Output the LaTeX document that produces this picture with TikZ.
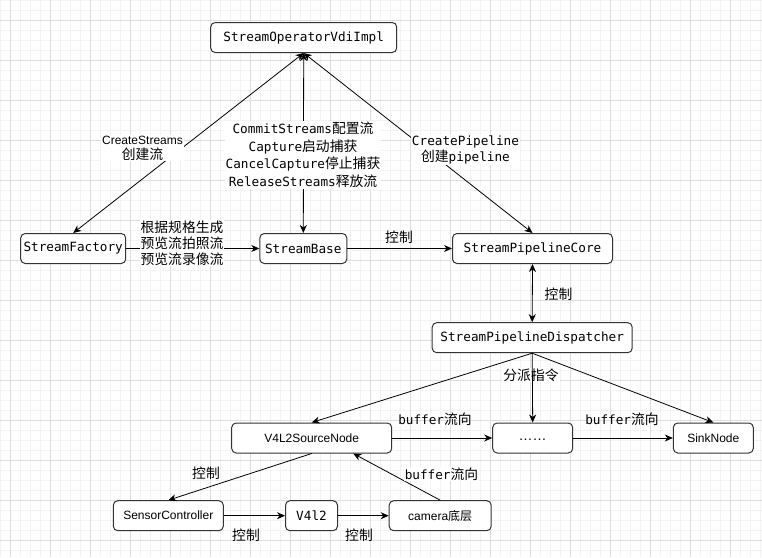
\documentclass[tikz,border=0pt]{standalone}
\usepackage{fontspec}
\setmainfont{Liberation Sans}
\newfontfamily\monof{DejaVu Sans Mono}
\newfontfamily\cjkf{Noto Sans CJK SC}
\usetikzlibrary{arrows.meta,calc}
\newcommand\zh[1]{{\cjkf\fontsize{13.8}{16}\selectfont #1}}
\newcommand\zhs[1]{{\cjkf\fontsize{12}{15}\selectfont #1}}
\definecolor{gridminor}{HTML}{F3F3F3}
\definecolor{gridmajor}{HTML}{DEDEDE}
\definecolor{boxline}{HTML}{333333}
\tikzset{
  box/.style={draw=boxline, line width=1pt, rounded corners=4.5pt, fill=white,
    minimum height=30pt, inner sep=0pt, text=black},
  mbox/.style={box, font=\monof\fontsize{12.7}{15}\selectfont},
  sbox/.style={box, font=\fontsize{12}{15}\selectfont},
  tip/.tip={Stealth[length=8pt,width=7pt,inset=2.5pt]},
  conn/.style={draw=black, line width=0.8pt, -tip},
  both/.style={draw=black, line width=0.8pt, tip-tip},
  lbl/.style={font=\monof\fontsize{12.7}{16}\selectfont, align=center, inner sep=1pt, text=black},
  wlbl/.style={lbl, fill=white},
}
\begin{document}
\begin{tikzpicture}[x=1pt,y=-1pt]
\useasboundingbox (0,0) rectangle (762,557);
\fill[white] (0,0) rectangle (762,557);
\foreach \x in {0,10,...,760} \draw[gridminor, line width=0.8pt] (\x,0) -- (\x,557);
\foreach \y in {0,10,...,550} \draw[gridminor, line width=0.8pt] (0,\y) -- (762,\y);
\foreach \x in {10,50,...,730} \draw[gridmajor, line width=0.9pt] (\x,0) -- (\x,557);
\foreach \y in {20,60,...,540} \draw[gridmajor, line width=0.9pt] (0,\y) -- (762,\y);

% nodes
\node[mbox, minimum width=186pt] (impl) at (303.7,37.5) {StreamOperatorVdiImpl};
\node[mbox, minimum width=105pt] (fac) at (73.2,248.5) {StreamFactory};
\node[mbox, minimum width=87pt] (base) at (303.3,248.5) {StreamBase};
\node[mbox, minimum width=160pt] (core) at (532.5,248.5) {StreamPipelineCore};
\node[mbox, minimum width=200pt] (disp) at (532.2,337.7) {StreamPipelineDispatcher};
\node[sbox, minimum width=160pt] (src) at (311.7,438) {V4L2SourceNode};
\node[sbox, minimum width=80pt] (dots) at (532.7,438) {\raisebox{-4pt}{\fontsize{14}{15}\selectfont ……}};
\node[sbox, minimum width=80pt] (sink) at (713.3,438) {SinkNode};
\node[sbox, minimum width=110pt] (sensor) at (168.3,515.7) {SensorController};
\node[mbox, minimum width=52pt] (v4l2) at (311.5,515.7) {V4l2};
\node[sbox, minimum width=102pt] (cam) at (440.2,515.7) {camera\zhs{底层}};

% connectors
\draw[both] (fac.north) -- (impl.south);
\draw[both] (base.north) -- (impl.south);
\draw[both] (core.north) -- (impl.south);
\draw[conn] (fac.east) -- (base.west);
\draw[conn] (base.east) -- (core.west);
\draw[both] (core.south) -- (disp.north);
\draw[conn] (disp.south) -- (src.north);
\draw[conn] (disp.south) -- (sink.north);
\node[wlbl] (ldisp) at (531,375) {\zh{分派指令}};
\draw[conn] (disp.south) -- (dots.north);
\draw[conn] (src.east) -- (dots.west);
\draw[conn] (dots.east) -- (sink.west);
\draw[conn] (src.south) -- (sensor.north);
\draw[conn] (sensor.east) -- (v4l2.west);
\draw[conn] (v4l2.east) -- (cam.west);
\coordinate (srcb) at ($(src.south)+(41.5,0)$);
\draw[conn] (cam.north) -- (srcb);

% labels
\node[wlbl, font=\fontsize{12}{15}\selectfont] (lcs) at (142.5,148) {CreateStreams\\\zh{创建流}};
\node[wlbl, font=\monof\fontsize{12.7}{17.5}\selectfont] (lops) at (303,155)
  {CommitStreams\zh{配置流}\\Capture\zh{启动捕获}\\CancelCapture\zh{停止捕获}\\ReleaseStreams\zh{释放流}};
\node[wlbl] (lcp) at (465.5,150) {CreatePipeline\\\zh{创建}pipeline};
\node[wlbl, font=\monof\fontsize{12.7}{16}\selectfont] (lgen) at (182,243)
  {\zh{根据规格生成}\\\zh{预览流拍照流}\\\zh{预览流录像流}};
\node[lbl] (lc1) at (399,237) {\zh{控制}};
\node[lbl] (lc2) at (558.5,294) {\zh{控制}};
\node[lbl] (lb1) at (435,419) {buffer\zh{流向}};
\node[lbl] (lb2) at (622,419) {buffer\zh{流向}};
\node[wlbl] (lb3) at (441.5,474) {buffer\zh{流向}};
\node[lbl] (lc3) at (206,473) {\zh{控制}};
\node[lbl] (lc4) at (246,535) {\zh{控制}};
\node[lbl] (lc5) at (359,535) {\zh{控制}};
\end{tikzpicture}
\end{document}
